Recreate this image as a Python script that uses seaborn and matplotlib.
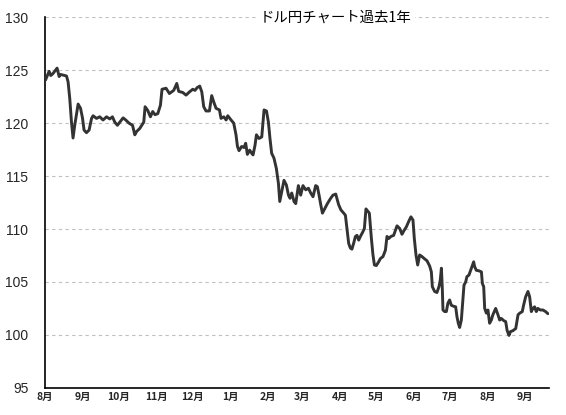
import numpy as np
import pandas as pd
import matplotlib
matplotlib.use("Agg")
import matplotlib.pyplot as plt
import seaborn as sns

# ---- data ----
start_date = "2015-08-01"
title = "ドル円チャート過去1年"
# days since 2015-08-01
days = [0.4, 3.4, 4.8, 6.7, 10.0, 11.7, 12.8, 16.4, 17.8, 19.1, 20.5, 21.9, 23.2, 24.6,
        26.0, 27.4, 29.4, 31.0, 32.3, 34.3, 36.5, 38.5, 39.8, 42.6, 45.3, 48.0, 50.9,
        53.6, 55.8, 57.7, 59.9, 61.9, 64.6, 66.8, 69.5, 72.4, 74.3, 75.7, 78.4,
        79.5, 81.7, 82.8, 85.0, 87.2, 89.1, 91.0, 93.3, 95.5, 96.8, 100.1, 102.9,
        106.5, 109.0, 110.6, 113.9, 116.7, 119.5, 122.2, 124.1, 125.8, 128.0, 129.7,
        131.3, 133.2, 136.0, 137.9, 139.6, 141.5, 144.3, 145.6, 147.9, 149.8, 151.2,
        153.9, 156.1, 158.0, 159.2, 160.5, 162.7, 164.6, 166.0, 167.4, 169.3, 171.0,
        172.1, 173.7, 174.9, 177.0, 179.3, 181.2, 183.2, 184.8, 186.1, 187.5, 189.4,
        191.4, 193.1, 194.2, 195.8, 197.7, 199.7, 201.4, 202.7, 204.1, 206.0, 207.4,
        209.6, 211.5, 213.4, 215.7, 217.9, 219.8, 221.7, 223.9, 225.3, 226.7, 228.1,
        229.5, 231.6, 233.6, 236.3, 238.2, 240.5, 242.9, 244.8, 247.1, 248.5, 249.8,
        251.2, 252.6, 253.9, 255.3, 256.8, 258.1, 259.5, 260.9, 263.0, 264.2, 265.5,
        267.2, 268.3, 270.0, 271.3, 272.5, 274.1, 276.0, 277.4, 279.6, 281.6, 282.9,
        284.3, 286.2, 288.4, 291.2, 293.4, 295.3, 296.7, 298.9, 300.8, 302.7, 304.4,
        305.5, 306.9, 308.3, 309.9, 311.8, 313.8, 316.0, 318.2, 319.6, 320.4, 322.3,
        324.2, 325.9, 327.0, 327.9, 328.7, 329.2, 330.6, 332.0, 333.3, 334.7, 336.1,
        338.0, 339.7, 340.8, 341.9, 343.0, 344.4, 345.7, 346.6, 348.0, 349.0, 350.7,
        352.7, 354.6, 355.4, 356.8, 359.0, 361.0, 361.8, 362.9, 363.7, 365.1, 366.4,
        367.8, 369.2, 370.5, 372.8, 374.7, 376.1, 377.5, 379.4, 381.1, 382.2, 383.8,
        385.0, 387.1, 389.4, 391.3, 392.7, 394.8, 395.9, 397.6, 399.5, 400.9, 402.3,
        403.6, 405.0, 406.4, 407.7, 409.7, 411.9, 414.1, 416.0]
usdjpy = [124.07, 124.9, 124.5, 124.7, 125.2, 124.4, 124.6, 124.5, 124.45, 123.9, 122.3,
          120.1, 118.6, 119.8, 120.8, 121.8, 121.4, 120.5, 119.35, 119.1, 119.35, 120.45,
          120.7, 120.45, 120.6, 120.3, 120.6, 120.4, 120.6, 120.1, 119.8, 120.1, 120.5,
          120.3, 120.0, 119.8, 118.9, 119.2, 119.5,
          119.7, 120.1, 121.55, 121.2, 120.6, 121.1, 120.8, 120.9, 121.7, 123.2, 123.3,
          122.8, 123.1, 123.75, 123.0, 122.9, 122.65, 122.95, 123.2, 123.1, 123.35,
          123.5, 122.95, 121.55, 121.15, 121.15, 122.6, 122.0, 121.4, 121.25, 120.45,
          120.6, 120.3, 120.7, 120.3, 120.0, 118.9, 117.8, 117.4, 117.8, 117.7, 118.1,
          117.05, 117.45, 117.15, 117.0, 117.9, 118.9, 118.55, 118.7, 121.25, 121.15,
          120.1, 118.55, 117.15, 116.7, 115.7, 114.3, 112.6, 113.5, 114.6, 114.15,
          113.2, 112.9, 113.4, 112.6, 112.4, 114.1, 113.2, 114.1, 113.7, 113.85, 113.4,
          113.05, 114.1, 114.0, 113.2, 112.3, 111.5, 111.95, 112.4, 112.9, 113.2, 113.3,
          112.3, 111.8, 111.5, 111.3, 110.05, 108.65, 108.2, 108.1, 108.65, 109.3,
          109.4, 108.95, 109.3, 109.75, 110.05, 111.9, 111.65, 111.5, 109.1, 107.55,
          106.6, 106.55, 106.9, 107.2, 107.4, 108.0, 109.3, 109.1, 109.3, 109.4, 110.3,
          110.05, 109.5, 109.8, 110.2, 110.7, 111.15, 110.85, 109.1, 107.55, 106.6,
          107.55, 107.4, 107.2, 107.0, 106.5, 105.95, 104.55, 104.1, 104.0, 104.55,
          105.2, 106.3, 104.25, 102.35, 102.2, 102.2, 103.0, 103.3, 102.8, 102.7,
          102.65, 101.7, 101.1, 100.7, 101.4, 103.3, 104.7, 105.0, 105.5, 105.65,
          106.3, 106.9, 106.45, 106.1, 106.05, 105.95, 104.85, 104.55, 102.5, 102.05,
          102.35, 101.1, 101.4, 101.9, 102.5, 101.9, 101.4, 101.55, 101.35, 101.25,
          100.45, 99.95, 100.3, 100.4, 100.6, 101.9, 102.05, 102.2, 102.8, 103.6, 104.1,
          103.6, 102.2, 102.5, 102.65, 102.2, 102.5, 102.35, 102.35, 102.2, 102.0]
month_ticks = ["2015-08-01", "2015-09-01", "2015-10-01", "2015-11-01", "2015-12-01",
               "2016-01-01", "2016-02-01", "2016-03-01", "2016-04-01", "2016-05-01",
               "2016-06-01", "2016-07-01", "2016-08-01", "2016-09-01"]
month_labels = ["8月", "9月", "10月", "11月", "12月", "1月", "2月", "3月", "4月",
                "5月", "6月", "7月", "8月", "9月"]
y_ticks = [95, 100, 105, 110, 115, 120, 125, 130]

# ---- build frame ----
t0 = pd.Timestamp(start_date)
df = pd.DataFrame({
    "date": t0 + pd.to_timedelta(np.array(days), unit="D"),
    "rate": usdjpy,
})

sns.set_style("white")
plt.rcParams["font.family"] = ["Liberation Sans", "Noto Sans CJK JP", "DejaVu Sans"]

fig = plt.figure(figsize=(5.66, 4.15), dpi=100)
ax = fig.add_axes([45 / 566, 1 - 387.8 / 415, (548.5 - 45) / 566, (387.8 - 17.3) / 415])

sns.lineplot(data=df, x="date", y="rate", ax=ax, color="#333333", linewidth=2.1,
             zorder=3)

ax.set_ylim(95, 130)
ax.set_xlim(t0, t0 + pd.Timedelta(days=416.5))

# grid lines
for v in y_ticks[1:]:
    ax.axhline(v, color="#c0c0c0", linewidth=0.8, linestyle=(0, (3, 3)), zorder=1)

ax.set_yticks(y_ticks)
ax.set_yticklabels([str(v) for v in y_ticks], fontsize=10,
                   family=["Liberation Sans", "DejaVu Sans"])
ax.tick_params(axis="y", length=0, pad=12)

tick_dates = [pd.Timestamp(d) for d in month_ticks]
ax.set_xticks(tick_dates)
ax.set_xticklabels(month_labels, fontsize=7.5, fontweight="bold",
                   family=["Noto Sans CJK JP", "DejaVu Sans"])
ax.tick_params(axis="x", direction="in", length=3, width=1, color="black", pad=3)

ax.set_xlabel("")
ax.set_ylabel("")
ax.grid(False)
for side in ["top", "right"]:
    ax.spines[side].set_visible(False)
for side in ["left", "bottom"]:
    ax.spines[side].set_color("black")
    ax.spines[side].set_linewidth(1.2)

ax.text(0.578, 1.0, title, transform=ax.transAxes, ha="center", va="center",
        fontsize=10.4, family=["Noto Sans CJK JP", "DejaVu Sans"], color="black",
        bbox=dict(facecolor="white", edgecolor="none", pad=2.5), zorder=5)

fig.savefig("out.png", dpi=100)
